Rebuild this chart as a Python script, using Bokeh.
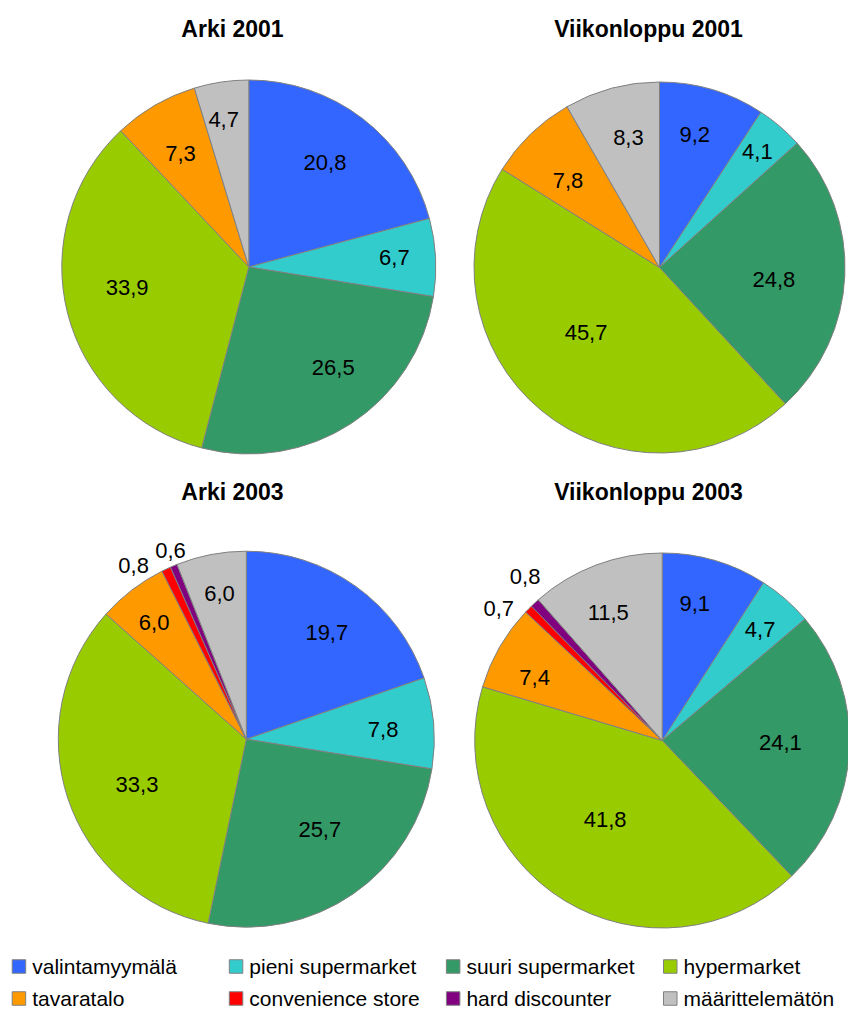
import math

from bokeh.core.properties import value
from bokeh.embed import file_html
from bokeh.models import ColumnDataSource, Range1d
from bokeh.plotting import figure
from bokeh.resources import INLINE

# ---- data -------------------------------------------------------------
categories = [
    "valintamyymälä",
    "pieni supermarket",
    "suuri supermarket",
    "hypermarket",
    "tavaratalo",
    "convenience store",
    "hard discounter",
    "määrittelemätön",
]
colors = ["#3366FF", "#33CCCC", "#339966", "#99CC00",
          "#FF9900", "#FF0000", "#800080", "#C0C0C0"]

titles = ["Arki 2001", "Viikonloppu 2001", "Arki 2003", "Viikonloppu 2003"]

arki_2001 = [20.8, 6.7, 26.5, 33.9, 7.3, None, None, 4.7]
viikonloppu_2001 = [9.2, 4.1, 24.8, 45.7, 7.8, None, None, 8.3]
arki_2003 = [19.7, 7.8, 25.7, 33.3, 6.0, 0.8, 0.6, 6.0]
viikonloppu_2003 = [9.1, 4.7, 24.1, 41.8, 7.4, 0.7, 0.8, 11.5]

series = [arki_2001, viikonloppu_2001, arki_2003, viikonloppu_2003]

# ---- layout (screen pixels, origin top-left) --------------------------
W, H = 848, 1011
pie_centers = [(248.3, 266.5), (659.0, 267.0), (245.8, 738.7), (661.7, 740.0)]
pie_radii = [187.0, 185.5, 188.0, 187.5]
title_pos = [(232, 28), (648, 28), (232, 491), (648, 491)]

# label distance from centre as a fraction of the radius, per slice
label_radius = [
    [0.69, 0.78, 0.70, 0.66, 0.71, None, None, 0.80],
    [0.74, 0.82, 0.62, 0.53, 0.68, None, None, 0.72],
    [0.71, 0.73, 0.62, 0.63, 0.79, 1.10, 1.08, 0.79],
    [0.75, 0.79, 0.63, 0.52, 0.76, 1.12, 1.14, 0.74],
]
# angular nudges (degrees) of each label away from its slice's mid angle
label_shift = [
    [-1.3, -0.7, -7.0, 4.8, -0.9, 0, 0, -1.2],
    [-1.7, -0.5, 3.4, 8.7, -2.5, 0, 0, 1.5],
    [1.6, 0.7, -4.5, -4.4, -0.9, -7.8, 0.8, 0.4],
    [-3.0, 0.2, -2.2, 4.4, -3.5, -5.6, 2.9, -2.2],
]

FONT = "Liberation Sans"


def sy(y):
    """Screen y (down) to data y (up)."""
    return H - y


p = figure(
    width=W, height=H,
    x_range=Range1d(0, W), y_range=Range1d(0, H),
    x_axis_type=None, y_axis_type=None,
    toolbar_location=None, output_backend="svg",
    min_border=0, outline_line_color=None,
    background_fill_color="white", border_fill_color="white",
)
p.xgrid.visible = False
p.ygrid.visible = False

for k, vals in enumerate(series):
    cx, cy = pie_centers[k]
    r = pie_radii[k]
    total = sum(v for v in vals if v is not None)

    starts, ends, fills = [], [], []
    lx, ly, ltxt = [], [], []
    cum = 0.0
    for i, v in enumerate(vals):
        if v is None:
            continue
        a0 = cum / total * 2 * math.pi
        a1 = (cum + v) / total * 2 * math.pi
        starts.append(math.pi / 2 - a0)
        ends.append(math.pi / 2 - a1)
        fills.append(colors[i])

        mid = (a0 + a1) / 2 + math.radians(label_shift[k][i])
        d = label_radius[k][i] * r
        lx.append(cx + d * math.sin(mid))
        ly.append(sy(cy - d * math.cos(mid)))
        ltxt.append(f"{v:.1f}".replace(".", ","))
        cum += v

    wedges = ColumnDataSource(dict(start=starts, end=ends, fill=fills))
    p.wedge(x=cx, y=sy(cy), radius=r, start_angle="start", end_angle="end",
            direction="clock", fill_color="fill", line_color="#808080",
            line_width=1, source=wedges)

    labels = ColumnDataSource(dict(x=lx, y=ly, text=ltxt))
    p.text(x="x", y="y", text="text", source=labels,
           text_font=value(FONT), text_font_size=value("22px"),
           text_color="black", text_align="center", text_baseline="middle")

    tx, ty = title_pos[k]
    p.text(x=[tx], y=[sy(ty)], text=[titles[k]],
           text_font=value(FONT), text_font_size=value("23px"),
           text_font_style="bold", text_color="black",
           text_align="center", text_baseline="middle")

# ---- legend: 4 columns x 2 rows -----------------------------------------
col_x = 11.7
col_step = 217.1
row_y = [966.0, 998.0]
box = 13.5
n_cols = 4

bx, by, tx_, ty_ = [], [], [], []
for i, name in enumerate(categories):
    c, rw = i % n_cols, i // n_cols
    left = col_x + c * col_step
    bx.append(left + box / 2)
    by.append(sy(row_y[rw]))
    tx_.append(left + box + 6.5)
    ty_.append(sy(row_y[rw]))

p.rect(x=bx, y=by, width=box, height=box, fill_color=colors,
       line_color="#808080", line_width=1)
p.text(x=tx_, y=ty_, text=categories,
       text_font=value(FONT), text_font_size=value("21px"),
       text_color="black", text_align="left", text_baseline="middle")

open("out.html", "w").write(file_html(p, INLINE))
